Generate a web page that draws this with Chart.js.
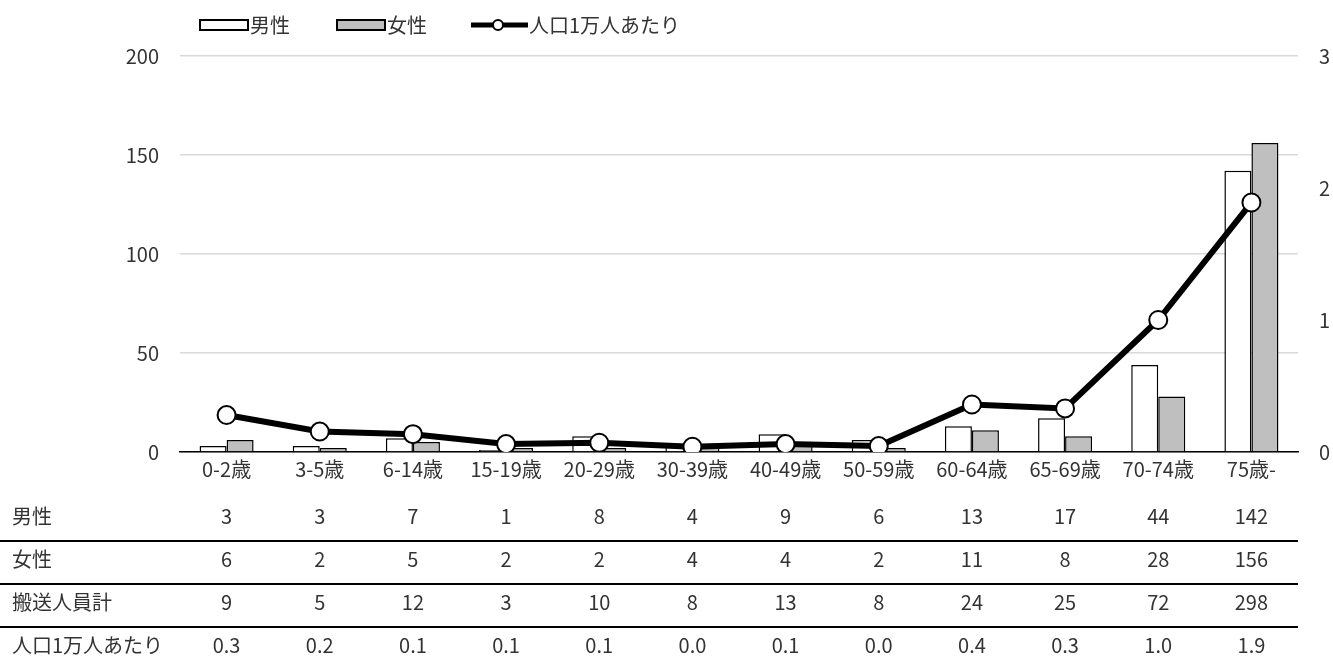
<!DOCTYPE html>
<html>
<head>
<meta charset="utf-8">
<script src="https://cdn.jsdelivr.net/npm/chart.js@4"></script>
<style>
  html, body { margin: 0; padding: 0; background: #fff; }
  #wrap { width: 1333px; height: 659px; }
</style>
</head>
<body>
<div id="wrap"><canvas id="chart" width="1333" height="659"></canvas></div>
<script>
// Data
const ageGroups = ['0-2歳', '3-5歳', '6-14歳', '15-19歳', '20-29歳', '30-39歳', '40-49歳', '50-59歳', '60-64歳', '65-69歳', '70-74歳', '75歳-'];
const maleCounts = [3, 3, 7, 1, 8, 4, 9, 6, 13, 17, 44, 142];
const femaleCounts = [6, 2, 5, 2, 2, 4, 4, 2, 11, 8, 28, 156];
const totalCounts = [9, 5, 12, 3, 10, 8, 13, 8, 24, 25, 72, 298];
const perTenThousand = [0.28, 0.155, 0.135, 0.06, 0.07, 0.04, 0.06, 0.045, 0.36, 0.33, 1.0, 1.89];
const perTenThousandLabels = ['0.3', '0.2', '0.1', '0.1', '0.1', '0.0', '0.1', '0.0', '0.4', '0.3', '1.0', '1.9'];
const leftTicks = [0, 50, 100, 150, 200];
const rightTicks = [0, 1, 2, 3];

const FONT = '"Noto Sans CJK JP", "Noto Sans", sans-serif';
const TEXT = '#333333';
const FS = 20;

// Legend drawn by hand (box / box / line with marker)
const legendPlugin = {
    id: 'customLegend',
    afterDraw(chart) {
        const ctx = chart.ctx;
        const ds = chart.data.datasets;
        ctx.save();
        ctx.font = FS + 'px ' + FONT;
        ctx.textBaseline = 'middle';
        const y = 25;
        ctx.lineWidth = 2;
        ctx.strokeStyle = '#000';
        // male
        ctx.fillStyle = ds[0].backgroundColor;
        ctx.fillRect(200, 20, 48, 10);
        ctx.strokeRect(200, 20, 48, 10);
        ctx.fillStyle = TEXT;
        ctx.fillText(ds[0].label, 250, y);
        // female
        ctx.fillStyle = ds[1].backgroundColor;
        ctx.fillRect(337, 20, 48, 10);
        ctx.strokeRect(337, 20, 48, 10);
        ctx.fillStyle = TEXT;
        ctx.fillText(ds[1].label, 387, y);
        // line
        ctx.lineWidth = 5;
        ctx.beginPath();
        ctx.moveTo(471, y);
        ctx.lineTo(528, y);
        ctx.stroke();
        ctx.beginPath();
        ctx.arc(498, y, 5, 0, Math.PI * 2);
        ctx.fillStyle = '#fff';
        ctx.fill();
        ctx.lineWidth = 2;
        ctx.stroke();
        ctx.fillStyle = TEXT;
        ctx.fillText(ds[2].label, 529, y);
        ctx.restore();
    }
};

// Data table under the chart
const tablePlugin = {
    id: 'dataTable',
    afterDraw(chart) {
        const ctx = chart.ctx;
        const x = chart.scales.x;
        const right = chart.chartArea.right;
        const rows = [
            ['男性', maleCounts.map(String)],
            ['女性', femaleCounts.map(String)],
            ['搬送人員計', totalCounts.map(String)],
            ['人口1万人あたり', perTenThousandLabels]
        ];
        const rowY = [516, 559, 602, 645];
        ctx.save();
        ctx.font = FS + 'px ' + FONT;
        ctx.textBaseline = 'middle';
        ctx.fillStyle = TEXT;
        rows.forEach((row, r) => {
            ctx.textAlign = 'left';
            ctx.fillText(row[0], 12, rowY[r]);
            ctx.textAlign = 'center';
            row[1].forEach((v, i) => {
                ctx.fillText(v, x.getPixelForValue(i), rowY[r]);
            });
        });
        ctx.strokeStyle = '#000';
        ctx.lineWidth = 2;
        [541, 584, 627].forEach((ly) => {
            ctx.beginPath();
            ctx.moveTo(0, ly);
            ctx.lineTo(right, ly);
            ctx.stroke();
        });
        ctx.restore();
    }
};

new Chart(document.getElementById('chart'), {
    type: 'bar',
    data: {
        labels: ageGroups,
        datasets: [
            {
                label: '男性',
                data: maleCounts,
                backgroundColor: '#ffffff',
                borderColor: '#000000',
                borderWidth: 1.5,
                categoryPercentage: 0.58,
                barPercentage: 1,
                yAxisID: 'y',
                order: 1,
            },
            {
                label: '女性',
                data: femaleCounts,
                backgroundColor: '#bfbfbf',
                borderColor: '#000000',
                borderWidth: 1.5,
                categoryPercentage: 0.58,
                barPercentage: 1,
                yAxisID: 'y',
                order: 1,
            },
            {
                type: 'line',
                label: '人口1万人あたり',
                data: perTenThousand,
                borderColor: '#000000',
                borderWidth: 6,
                pointRadius: 9,
                pointBackgroundColor: '#ffffff',
                pointBorderColor: '#000000',
                pointBorderWidth: 2,
                tension: 0,
                yAxisID: 'y1',
                order: 0,
            },
        ],
    },
    options: {
        responsive: false,
        animation: false,
        layout: { padding: { top: 56, bottom: 177, left: 0, right: 0 } },
        plugins: {
            legend: { display: false },
            tooltip: { enabled: false },
        },
        scales: {
            x: {
                grid: { display: false, drawTicks: false },
                border: { display: true, color: '#000', width: 1.5 },
                ticks: { color: TEXT, font: { family: FONT, size: FS }, padding: 5, maxRotation: 0, autoSkip: false },
                afterFit(scale) { scale.height = 30; },
            },
            y: {
                position: 'left',
                min: 0,
                max: 200,
                afterBuildTicks(scale) { scale.ticks = leftTicks.map((v) => ({ value: v })); },
                grid: { color: '#d9d9d9', lineWidth: 1.5, drawTicks: false },
                border: { display: false },
                ticks: { color: TEXT, font: { family: FONT, size: FS }, padding: 21 },
                afterFit(scale) { scale.width = 180; },
            },
            y1: {
                position: 'right',
                min: 0,
                max: 3,
                afterBuildTicks(scale) { scale.ticks = rightTicks.map((v) => ({ value: v })); },
                grid: { display: false, drawTicks: false },
                border: { display: false },
                ticks: { color: TEXT, font: { family: FONT, size: FS }, padding: 21 },
                afterFit(scale) { scale.width = 35; },
            },
        },
    },
    plugins: [legendPlugin, tablePlugin],
});
</script>
</body>
</html>
